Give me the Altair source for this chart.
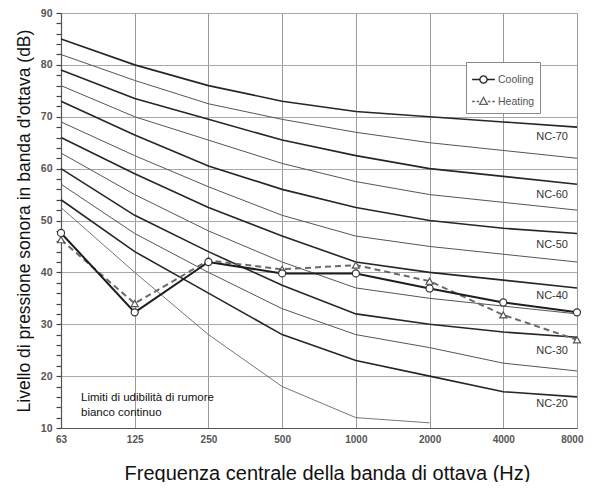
import altair as alt
import pandas as pd

freqs = ["63", "125", "250", "500", "1000", "2000", "4000", "8000"]

nc_names = ["NC-70", "NC-65", "NC-60", "NC-55", "NC-50", "NC-45",
            "NC-40", "NC-35", "NC-30", "NC-25", "NC-20"]
nc_thick = [True, False, True, False, True, False, True, False, True, False, True]
nc_values = [
    [85, 80, 76, 73, 71, 70, 69, 68],
    [82, 77, 72.5, 69.5, 67, 65, 63.5, 62],
    [79, 73.5, 69.5, 65.5, 62.5, 60, 58.5, 57],
    [76, 70, 65.5, 61, 57.5, 55, 53.5, 52],
    [73, 66.5, 60.5, 56, 52.5, 50, 48.5, 47.5],
    [69, 62.5, 56.5, 51, 47, 45, 43.5, 42],
    [66, 59, 52.5, 47, 42, 40, 38.5, 37],
    [63, 55, 48, 42, 37, 35, 33.5, 32],
    [60, 51, 44, 37.5, 32, 30, 28.5, 27.5],
    [57, 47.5, 40, 33, 28, 25.5, 22.5, 21],
    [54, 44, 36, 28, 23, 20, 17, 16],
]
threshold = [52.5, 40, 28, 18, 12, 11]

cooling = [47.6, 32.3, 42.0, 39.8, 39.8, 36.9, 34.2, 32.3]
heating = [46.3, 34.0, 42.3, 40.6, 41.4, 38.3, 31.8, 27.0]
series_names = ["Cooling", "Heating"]

label_names = ["NC-70", "NC-60", "NC-50", "NC-40", "NC-30", "NC-20"]
label_db = [66.1, 55.0, 45.3, 35.4, 24.9, 14.7]

note_text = "Limiti di udibilità di rumore\nbianco continuo"
note_db = 15.8

y_tick_values = list(range(10, 91, 2))

FONT = "Liberation Sans"

rows = []
for name, vals, th in zip(nc_names, nc_values, nc_thick):
    for f, v in zip(freqs, vals):
        rows.append({"curve": name, "f": f, "db": v, "w": "thick" if th else "thin"})
nc_df = pd.DataFrame(rows)
thr_df = pd.DataFrame({"f": freqs[:len(threshold)], "db": threshold})
meas_df = pd.DataFrame({
    "f": freqs * 2,
    "db": cooling + heating,
    "series": [series_names[0]] * len(cooling) + [series_names[1]] * len(heating),
})
lab_df = pd.DataFrame({"f": ["8000"] * len(label_names), "db": label_db, "t": label_names})
note_df = pd.DataFrame({"f": ["63"], "db": [note_db], "t": [note_text]})

x_enc = alt.X(
    "f:O", sort=freqs,
    scale=alt.Scale(type="point", padding=0),
    axis=alt.Axis(
        title="Frequenza centrale della banda di ottava (Hz)",
        labelAngle=0, labelFont=FONT, labelFontSize=10, labelFontWeight="bold",
        labelColor="#555", labelPadding=6, ticks=False,
        labelAlign={"condition": {"test": "datum.value === '8000'", "value": "right"}, "value": "center"},
        labelOffset={"condition": {"test": "datum.value === '8000'", "value": 6}, "value": 0},
        grid=True, gridColor="#9a9a9a", gridWidth=1,
        domainColor="#555", domainWidth=1.2,
        titleFont=FONT, titleFontSize=20, titleFontWeight="normal",
        titleColor="#111", titlePadding=19, titleX=266,
    ),
)
y_enc = alt.Y(
    "db:Q",
    scale=alt.Scale(domain=[10, 90], nice=False, zero=False),
    axis=alt.Axis(
        title="Livello di pressione sonora in banda d'ottava (dB)",
        values=y_tick_values,
        labelExpr="datum.value % 10 === 0 ? datum.label : ''",
        labelFont=FONT, labelFontSize=10.5, labelFontWeight="bold",
        labelColor="#555", labelPadding=4,
        ticks=True, tickSize=5, tickColor="#444", tickWidth=1.2,
        grid=True, gridColor="#a8a8a8", gridWidth=1,
        gridOpacity={"condition": {"test": "datum.value % 10 === 0", "value": 1}, "value": 0},
        domainColor="#555", domainWidth=1.2,
        titleFont=FONT, titleFontSize=17.5, titleFontWeight="normal",
        titleColor="#111", titleX=-37, titleBaseline="middle",
    ),
)

base_nc = alt.Chart(nc_df)
thick_lines = base_nc.transform_filter("datum.w === 'thick'").mark_line(
    color="#262626", strokeWidth=1.6
).encode(x=x_enc, y=y_enc, detail="curve:N")
thin_lines = base_nc.transform_filter("datum.w === 'thin'").mark_line(
    color="#555", strokeWidth=1.0
).encode(x=x_enc, y=y_enc, detail="curve:N")
thr_line = alt.Chart(thr_df).mark_line(color="#666", strokeWidth=0.9).encode(x=x_enc, y=y_enc)

meas = alt.Chart(meas_df)
heat_line = meas.transform_filter("datum.series === 'Heating'").mark_line(
    color="#6a6a6a", strokeWidth=2, strokeDash=[6, 4]
).encode(x=x_enc, y=y_enc)
cool_line = meas.transform_filter("datum.series === 'Cooling'").mark_line(
    color="#1e1e1e", strokeWidth=2
).encode(x=x_enc, y=y_enc)
heat_pts = meas.transform_filter("datum.series === 'Heating'").mark_point(
    shape="triangle-up", size=50, filled=True, fill="white", stroke="#555", strokeWidth=1.2, opacity=1
).encode(x=x_enc, y=y_enc)
cool_pts = meas.transform_filter("datum.series === 'Cooling'").mark_point(
    shape="circle", size=50, filled=True, fill="white", stroke="#333", strokeWidth=1.2, opacity=1
).encode(x=x_enc, y=y_enc)

cool_path = ("M-1,0L-0.32,0M0.32,0L1,0M-0.32,0A0.32,0.32,0,1,1,0.32,0"
             "A0.32,0.32,0,1,1,-0.32,0Z")
heat_path = ("M-1,0L-0.76,0M-0.6,0L-0.38,0M0.38,0L0.6,0M0.76,0L1,0"
             "M0,-0.36L0.34,0.26L-0.34,0.26Z")

leg = alt.Legend(
    title=None, orient="none", legendX=405, legendY=49,
    fillColor="white", strokeColor="#888", padding=5,
    symbolSize=520, symbolOpacity=1, symbolStrokeWidth=1.3,
    symbolFillColor="white",
    labelFont=FONT, labelFontSize=10.5, labelColor="#555",
    labelOffset=2, rowPadding=3,
)
legend_layer = meas.mark_point(opacity=0, filled=False, strokeWidth=1.3).encode(
    x=x_enc, y=y_enc,
    shape=alt.Shape("series:N", scale=alt.Scale(domain=series_names, range=[cool_path, heat_path]),
                    legend=leg),
    color=alt.Color("series:N", scale=alt.Scale(domain=series_names, range=["#222", "#666"]),
                    legend=leg),
)

labels = alt.Chart(lab_df).mark_text(
    align="right", baseline="middle", dx=-9, font=FONT, fontSize=11, color="#333"
).encode(x=x_enc, y=y_enc, text="t:N")

note = alt.Chart(note_df).mark_text(
    align="left", baseline="middle", dx=20, font=FONT, fontSize=11.5, color="#111",
    lineBreak="\n", lineHeight=15
).encode(x=x_enc, y=y_enc, text="t:N")

chart = alt.layer(
    thin_lines, thick_lines, thr_line,
    heat_line, cool_line, heat_pts, cool_pts, legend_layer, labels, note
).properties(
    width=516, height=415,
    autosize=alt.AutoSizeParams(type="none"),
    padding={"left": 53, "top": 5, "right": 7, "bottom": 54},
).configure_view(stroke="#999", strokeWidth=1).configure(background="white")

chart.save("out.html", embed_options={"renderer": "svg", "actions": False})
